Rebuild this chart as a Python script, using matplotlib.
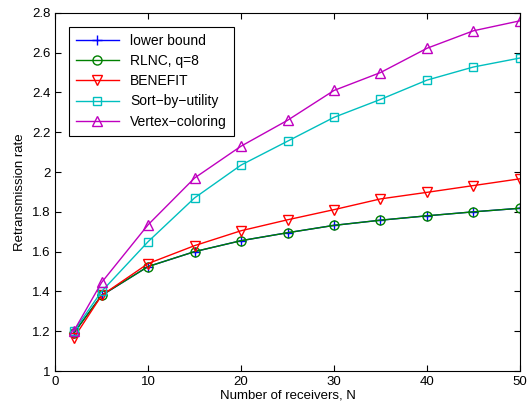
import numpy as np
import matplotlib.pyplot as plt

plt.rcParams['font.family'] = ['Liberation Sans', 'DejaVu Sans']

#--------------------------------------------------------------------------------------------------------------------------------
# Datos
N = [2, 5, 10, 15, 20, 25, 30, 35, 40, 45, 50]
lower_bound = [1.19, 1.38, 1.525, 1.60, 1.655, 1.695, 1.732, 1.758, 1.78, 1.80, 1.818]
rlnc_q8 = [1.19, 1.38, 1.525, 1.60, 1.655, 1.695, 1.732, 1.758, 1.78, 1.80, 1.818]
benefit = [1.165, 1.38, 1.54, 1.63, 1.705, 1.76, 1.811, 1.865, 1.898, 1.932, 1.966]
sort_by_utility = [1.20, 1.40, 1.65, 1.87, 2.035, 2.155, 2.275, 2.365, 2.462, 2.528, 2.573]
vertex_coloring = [1.20, 1.445, 1.735, 1.97, 2.13, 2.26, 2.41, 2.50, 2.622, 2.71, 2.76]

#--------------------------------------------------------------------------------------------------------------------------------
fig = plt.figure(figsize=(5.3, 4.15), dpi=100)
ax = fig.add_axes([0.104, 0.106, 0.877, 0.863])

ax.plot(N, lower_bound, color='#0000ff', marker='+', markersize=7, lw=1, label='lower bound')
ax.plot(N, rlnc_q8, color='#008000', marker='o', markersize=6.5, mfc='none', lw=1, label='RLNC, q=8')
ax.plot(N, benefit, color='#ff0000', marker='v', markersize=7, mfc='none', lw=1, label='BENEFIT')
ax.plot(N, sort_by_utility, color='#00bfbf', marker='s', markersize=5.5, mfc='none', lw=1, label='Sort\u2212by\u2212utility')
ax.plot(N, vertex_coloring, color='#bf00bf', marker='^', markersize=7, mfc='none', lw=1, label='Vertex\u2212coloring')

ax.set_xlim(0, 50)
ax.set_ylim(1, 2.8)
ax.set_xticks(np.arange(0, 51, 10))
ax.set_yticks(np.arange(1, 2.81, 0.2))
ax.set_yticklabels(['1', '1.2', '1.4', '1.6', '1.8', '2', '2.2', '2.4', '2.6', '2.8'])
ax.tick_params(direction='in', top=True, right=True, labelsize=9.5, length=4)
ax.set_xlabel('Number of receivers, N', fontsize=9.5, labelpad=1)
ax.set_ylabel('Retransmission rate', fontsize=9.5, labelpad=4)

leg = ax.legend(loc='upper left', fontsize=10, fancybox=False, framealpha=1,
                edgecolor='black', handlelength=3.1, borderaxespad=1.0,
                labelspacing=0.45, borderpad=0.5)
leg.get_frame().set_linewidth(0.8)

plt.savefig('out.png', dpi=100)
